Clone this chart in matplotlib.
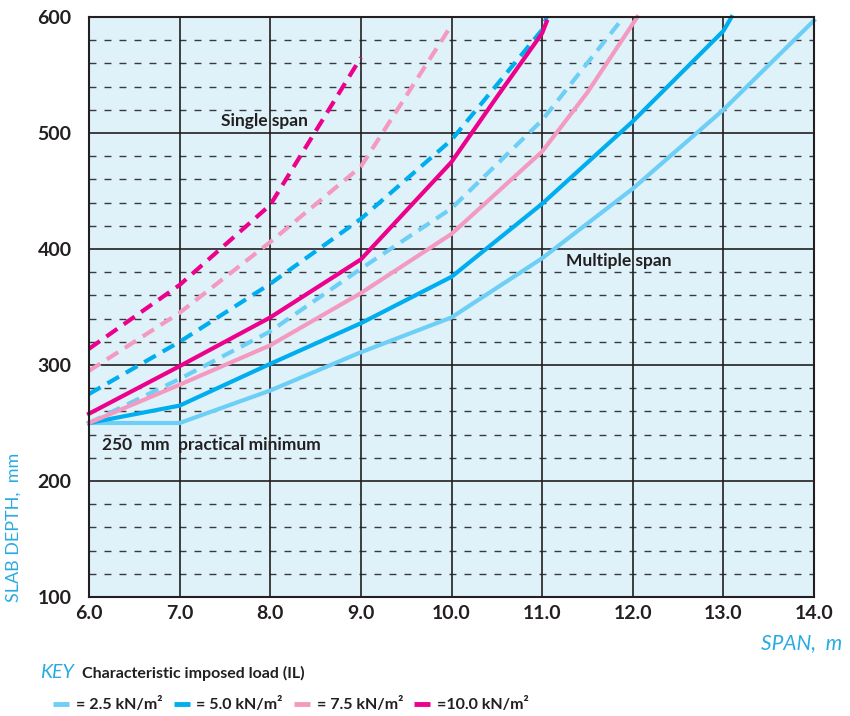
import matplotlib
matplotlib.use("Agg")
import matplotlib.pyplot as plt
from matplotlib.lines import Line2D

# ---- data ----
loads = ["= 2.5 kN/m²", "= 5.0 kN/m²", "= 7.5 kN/m²", "=10.0 kN/m²"]
colors = ["#6dcff6", "#00aeef", "#f49ac1", "#ec008c"]

# Multiple span (solid)
ms_x_25 = [6.0, 7.0, 8.0, 9.0, 10.0, 11.0, 12.0, 13.0, 14.0]
ms_y_25 = [250, 250, 278, 311, 341, 392, 452, 520, 597]
ms_x_50 = [6.0, 7.0, 8.0, 9.0, 10.0, 11.0, 12.0, 13.0, 13.09]
ms_y_50 = [250, 265, 301, 336, 376, 439, 510, 588, 600]
ms_x_75 = [6.0, 7.0, 8.0, 9.0, 10.0, 11.0, 11.5, 12.05]
ms_y_75 = [250, 283, 317, 362, 413, 484, 535, 600]
ms_x_100 = [6.0, 7.0, 8.0, 9.0, 10.0, 10.5, 11.0, 11.05]
ms_y_100 = [258, 299, 341, 391, 475, 531, 586, 596]

# Single span (dashed)
ss_x_25 = [6.0, 7.0, 8.0, 9.0, 10.0, 11.0, 11.85]
ss_y_25 = [250, 288, 329, 383, 435, 511, 595]
ss_x_50 = [6.0, 7.0, 8.0, 9.0, 10.0, 11.0, 11.05]
ss_y_50 = [275, 320, 370, 426, 494, 589, 600]
ss_x_75 = [6.0, 7.0, 8.0, 9.0, 10.0]
ss_y_75 = [295, 345, 406, 471, 593]
ss_x_100 = [6.0, 7.0, 8.0, 9.0]
ss_y_100 = [314, 369, 438, 565]

x_ticks = [6.0, 7.0, 8.0, 9.0, 10.0, 11.0, 12.0, 13.0, 14.0]
y_ticks = [100, 200, 300, 400, 500, 600]

# ---- style ----
BG = "#dff2fa"
DARK = "#231f20"
LABEL_BLUE = "#29abe2"
FONT = ["Lato", "DejaVu Sans"]
W, H = 850, 716

fig = plt.figure(figsize=(8.5, 7.16), dpi=100)
ax = fig.add_axes([89 / W, 1 - 597 / H, (814 - 89) / W, (597 - 17) / H])
ax.set_facecolor(BG)
ax.set_xlim(6.0, 14.0)
ax.set_ylim(100, 600)

# grid: dashed minor horizontal every 20, solid majors
for yv in range(120, 600, 20):
    if yv % 100 != 0:
        ax.axhline(yv, color="#3a3a3a", lw=1.0, ls=(0, (5, 5.8)), zorder=1)
for yv in y_ticks:
    ax.axhline(yv, color=DARK, lw=1.2, zorder=1.1)
for xv in x_ticks:
    ax.axvline(xv, color=DARK, lw=1.2, zorder=1.1)

solid_sets = [(ms_x_25, ms_y_25), (ms_x_50, ms_y_50), (ms_x_75, ms_y_75), (ms_x_100, ms_y_100)]
dash_sets = [(ss_x_25, ss_y_25), (ss_x_50, ss_y_50), (ss_x_75, ss_y_75), (ss_x_100, ss_y_100)]
for (xs, ys), c in zip(dash_sets, colors):
    ax.plot(xs, ys, color=c, lw=3.0, ls=(0, (3.2, 1.9)), dash_capstyle="butt",
            zorder=3, clip_on=False)
for (xs, ys), c in zip(solid_sets, colors):
    ax.plot(xs, ys, color=c, lw=3.0, zorder=4, clip_on=False, solid_joinstyle="round")

ax.set_xticks(x_ticks)
ax.set_yticks(y_ticks)
ax.set_xticklabels([f"{v:.1f}" for v in x_ticks], fontfamily=FONT, fontweight="bold",
                   fontsize=14, color=DARK)
ax.set_yticklabels([str(v) for v in y_ticks], fontfamily=FONT, fontweight="bold",
                   fontsize=14, color=DARK)
ax.tick_params(axis="x", length=0, pad=6)
ax.tick_params(axis="y", length=0, pad=12.5)
for s in ax.spines.values():
    s.set_color(DARK)
    s.set_linewidth(1.5)
    s.set_zorder(5)

txt_kw = dict(fontfamily=FONT, fontweight="bold", fontsize=12.5, color=DARK, zorder=6)
ax.text(7.94, 510, "Single span", ha="center", va="center", **txt_kw)
ax.text(11.84, 390, "Multiple span", ha="center", va="center", **txt_kw)
ax.text(6.14, 231, "250  mm  practical minimum", ha="left", va="center", **txt_kw)

fig.text(14 / W, 1 - 602 / H, "SLAB DEPTH,  mm", rotation=90, ha="center", va="bottom",
         fontfamily=FONT, fontsize=13, color=LABEL_BLUE)
fig.text(842 / W, 1 - 643 / H, "SPAN,  m", ha="right", va="center", fontstyle="italic",
         fontfamily=FONT, fontsize=15, color=LABEL_BLUE)

fig.text(40 / W, 1 - 673 / H, "KEY", ha="left", va="center", fontstyle="italic",
         fontfamily=FONT, fontsize=14, color=LABEL_BLUE)
fig.text(82 / W, 1 - 673 / H, "Characteristic imposed load (IL)", ha="left", va="center",
         fontweight="bold", fontfamily=FONT, fontsize=11.5, color=DARK)

# key entries, laid out left to right from measured text widths
renderer = fig.canvas.get_renderer()
y_leg = 1 - 704 / H
x_px = 53.0
for c, lab in zip(colors, loads):
    fig.add_artist(Line2D([x_px / W, (x_px + 16) / W], [y_leg, y_leg], color=c, lw=3.5,
                          solid_capstyle="butt", transform=fig.transFigure))
    t = fig.text((x_px + 23) / W, y_leg, lab, ha="left", va="center", fontweight="bold",
                 fontfamily=FONT, fontsize=11.5, color=DARK)
    w = t.get_window_extent(renderer=renderer).width
    x_px = x_px + 23 + w + 11

fig.savefig("out.png", dpi=100, facecolor="white")
